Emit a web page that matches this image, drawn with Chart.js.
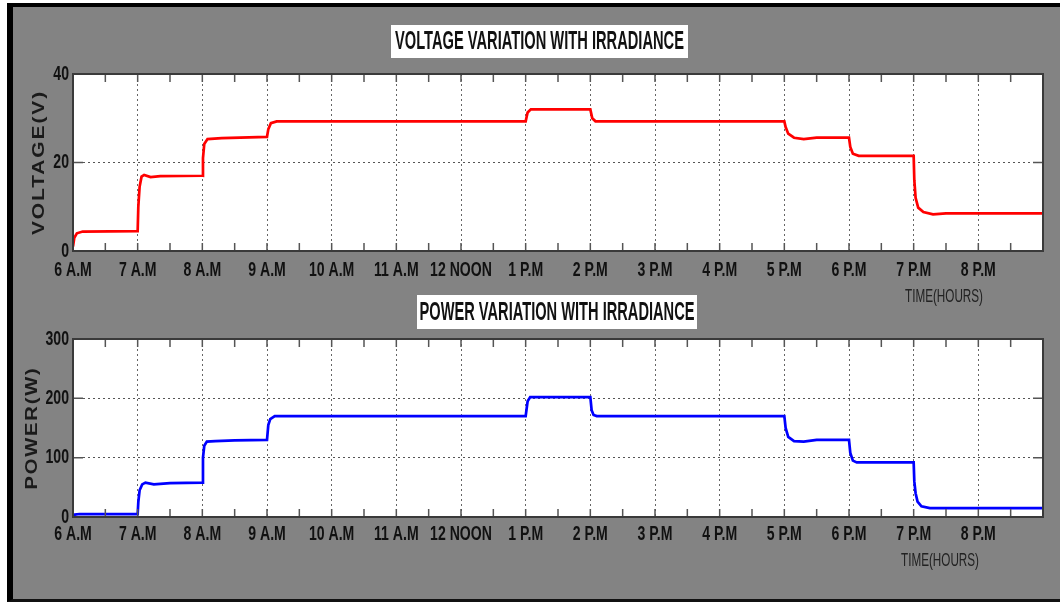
<!DOCTYPE html>
<html>
<head>
<meta charset="utf-8">
<script src="https://cdn.jsdelivr.net/npm/chart.js@4.4.1/dist/chart.umd.min.js"></script>
<style>
    html, body { margin: 0; padding: 0; background: #fff; }
    body { width: 1060px; height: 602px; position: relative; overflow: hidden; }
    #frame {
        position: absolute; left: 7px; top: 3px; width: 1047px; height: 592px;
        background: #838383;
        border-left: 6px solid #000; border-top: 4px solid #000; border-bottom: 3px solid #111;
    }
    canvas { position: absolute; left: 0; }
    #voltChart { top: 0; }
    #powerChart { top: 285px; }
</style>
</head>
<body>
<div id="frame"></div>
<canvas id="voltChart" width="1060" height="310"></canvas>
<canvas id="powerChart" width="1060" height="317"></canvas>
<script>
// tick labels, one per hour from 6 (6 A.M) to 20 (8 P.M)
const hourLabels = ['6 A.M', '7 A.M', '8 A.M', '9 A.M', '10 A.M', '11 A.M', '12 NOON',
    '1 P.M', '2 P.M', '3 P.M', '4 P.M', '5 P.M', '6 P.M', '7 P.M', '8 P.M'];

// voltage readings (hour of day, volts)
const voltTime = [6.0, 6.02, 6.06, 6.15, 7.0, 7.01, 7.03, 7.06, 7.1, 7.2, 7.35, 8.0, 8.01, 8.03, 8.08, 8.3,
    9.0, 9.02, 9.06, 9.15, 13.0, 13.03, 13.08, 14.0, 14.03, 14.08, 17.0, 17.02, 17.06, 17.15, 17.3, 17.5,
    18.0, 18.02, 18.06, 18.15, 19.0, 19.01, 19.03, 19.07, 19.15, 19.3, 19.5, 21.0];
const voltage = [1.0, 3.0, 4.0, 4.4, 4.5, 10, 14.5, 16.8, 17.2, 16.7, 16.9, 17.0, 21, 24.2, 25.3, 25.5,
    25.8, 27.5, 28.9, 29.3, 29.3, 31.3, 32.0, 32.0, 30.0, 29.3, 29.3, 28.0, 26.5, 25.6, 25.3, 25.6,
    25.6, 23.5, 22.0, 21.5, 21.5, 16, 12, 9.8, 8.8, 8.3, 8.5, 8.5];

// power readings (hour of day, watts)
const powerTime = [6.0, 6.03, 6.1, 7.0, 7.01, 7.03, 7.07, 7.12, 7.25, 7.5, 8.0, 8.01, 8.03, 8.07, 8.2, 8.5,
    9.0, 9.02, 9.05, 9.12, 13.0, 13.03, 13.07, 14.0, 14.02, 14.05, 14.1, 17.0, 17.02, 17.06, 17.15, 17.3,
    17.5, 18.0, 18.02, 18.06, 18.12, 19.0, 19.01, 19.03, 19.06, 19.12, 19.25, 21.0];
const power = [0, 4, 5, 5, 25, 45, 55, 58, 55, 57, 58, 100, 120, 127, 128, 129,
    130, 155, 165, 170, 170, 195, 202, 202, 180, 172, 170, 170, 150, 135, 128, 127,
    130, 130, 108, 95, 92, 92, 60, 40, 26, 18, 15, 15];

const arial = '"Liberation Sans", Arial, sans-serif';

// the original uses a very condensed face, so text is squeezed sideways
function squeeze(ctx, text, x, y, font, factor, align) {
    ctx.save();
    ctx.font = font;
    ctx.translate(x, y);
    ctx.scale(factor, 1);
    ctx.textAlign = align || 'center';
    ctx.textBaseline = 'middle';
    ctx.fillText(text, 0, 0);
    ctx.restore();
}
function squeezeTo(ctx, text, x, y, font, width) {
    ctx.save();
    ctx.font = font;
    const w = ctx.measureText(text).width;
    ctx.restore();
    squeeze(ctx, text, x, y, font, width / w);
}

// white plot area, box, inward ticks and the labels around it
const matlabFrame = {
    id: 'matlabFrame',
    beforeDraw(chart) {
        const { ctx, chartArea: a } = chart;
        ctx.save();
        ctx.fillStyle = '#fff';
        ctx.fillRect(a.left, a.top, a.right - a.left, a.bottom - a.top);
        ctx.restore();
    },
    afterDraw(chart, args, o) {
        const { ctx, chartArea: a } = chart;
        const xs = chart.scales.x, ys = chart.scales.y;
        ctx.save();

        // inward ticks every half hour, top and bottom
        ctx.strokeStyle = '#555';
        ctx.lineWidth = 1.5;
        ctx.beginPath();
        for (let h = xs.min; h <= xs.max; h += 0.5) {
            const px = xs.getPixelForValue(h);
            ctx.moveTo(px, a.bottom); ctx.lineTo(px, a.bottom - 8);
            ctx.moveTo(px, a.top); ctx.lineTo(px, a.top + 8);
        }
        ys.ticks.forEach(t => {
            const py = ys.getPixelForValue(t.value);
            ctx.moveTo(a.left, py); ctx.lineTo(a.left + 10, py);
            ctx.moveTo(a.right, py); ctx.lineTo(a.right - 10, py);
        });
        ctx.stroke();

        // axes box
        ctx.strokeStyle = '#3a3a3a';
        ctx.lineWidth = 2;
        ctx.strokeRect(a.left, a.top, a.right - a.left, a.bottom - a.top);

        // tick labels from the scales
        ctx.fillStyle = '#111';
        const tickFont = 'bold 21px ' + arial;
        xs.ticks.forEach(t => {
            const lbl = hourLabels[t.value - 6];
            if (lbl) squeeze(ctx, lbl, xs.getPixelForValue(t.value), a.bottom + o.xLabelOffset, tickFont, 0.67);
        });
        ys.ticks.forEach(t => {
            squeeze(ctx, String(t.value), a.left - 4, ys.getPixelForValue(t.value), tickFont, 0.67, 'right');
        });

        // title in a white box
        const b = o.titleBox;
        ctx.fillStyle = '#fff';
        ctx.fillRect(b[0], b[1], b[2], b[3]);
        ctx.fillStyle = '#111';
        squeezeTo(ctx, o.title, b[0] + b[2] / 2, b[1] + b[3] / 2 + 1, 'bold 25px ' + arial, o.titleWidth);

        // x axis name
        ctx.fillStyle = '#222';
        squeezeTo(ctx, 'TIME(HOURS)', o.timePos[0], o.timePos[1], '19px ' + arial, 78);

        // y axis name, rotated
        ctx.save();
        ctx.translate(o.yTitleX, (a.top + a.bottom) / 2);
        ctx.rotate(-Math.PI / 2);
        ctx.font = 'bold 17px ' + arial;
        ctx.letterSpacing = '1.5px';
        const w = ctx.measureText(o.yTitle).width;
        ctx.scale(o.yTitleLen / w, 1);
        ctx.fillStyle = '#1a1a1a';
        ctx.textAlign = 'center';
        ctx.textBaseline = 'middle';
        ctx.fillText(o.yTitle, 0, 0);
        ctx.restore();

        ctx.restore();
    }
};

function makeChart(canvasId, times, values, color, yMax, yStep, layout, frame) {
    const points = times.map((t, i) => ({ x: t, y: values[i] }));
    return new Chart(document.getElementById(canvasId), {
        type: 'line',
        data: {
            datasets: [{
                data: points,
                borderColor: color,
                borderWidth: 2.7,
                pointRadius: 0,
                tension: 0
            }]
        },
        options: {
            responsive: false,
            animation: false,
            layout: { padding: { left: 0, right: 17, top: layout.top, bottom: 0 } },
            plugins: { legend: { display: false }, tooltip: { enabled: false }, matlabFrame: frame },
            scales: {
                x: {
                    type: 'linear', min: 6, max: 21,
                    afterFit: s => { s.height = layout.xHeight; },
                    ticks: { stepSize: 1, autoSkip: false, display: false },
                    grid: { color: '#666', lineWidth: 1, drawTicks: false },
                    border: { display: false, dash: [2, 3] }
                },
                y: {
                    min: 0, max: yMax,
                    afterFit: s => { s.width = 73; },
                    ticks: { stepSize: yStep, display: false },
                    grid: { color: '#555', lineWidth: 1, drawTicks: false },
                    border: { display: false, dash: [2, 3] }
                }
            }
        },
        plugins: [matlabFrame]
    });
}

makeChart('voltChart', voltTime, voltage, '#ff0000', 40, 20,
    { top: 74, xHeight: 59 },
    { title: 'VOLTAGE VARIATION WITH IRRADIANCE', titleBox: [391, 25, 297, 33], titleWidth: 289,
      timePos: [944, 297], yTitle: 'VOLTAGE(V)', yTitleX: 39, yTitleLen: 145, xLabelOffset: 19 });

makeChart('powerChart', powerTime, power, '#0000ff', 300, 100,
    { top: 54, xHeight: 85 },
    { title: 'POWER VARIATION WITH IRRADIANCE', titleBox: [417, 10, 280, 34], titleWidth: 275,
      timePos: [940, 276], yTitle: 'POWER(W)', yTitleX: 32, yTitleLen: 123, xLabelOffset: 17 });
</script>
</body>
</html>
